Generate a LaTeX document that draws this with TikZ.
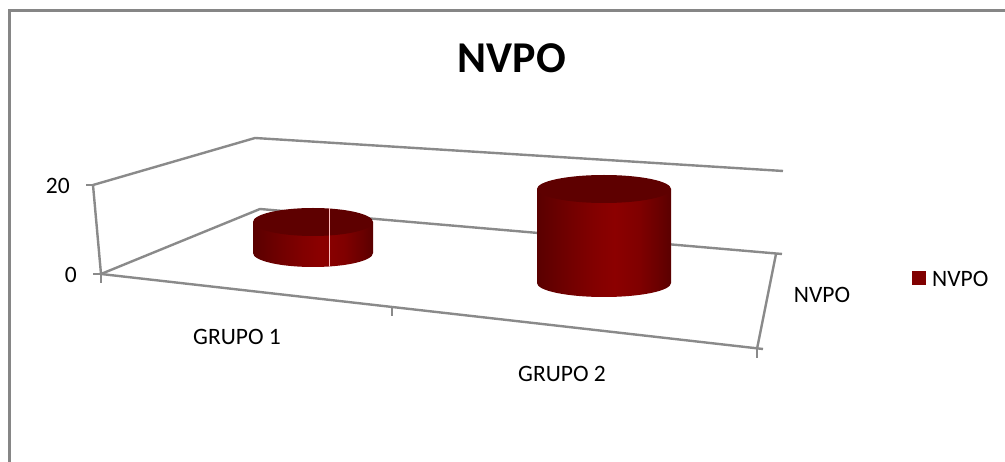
\documentclass[tikz,border=0pt]{standalone}
\usepackage{fontspec}
\setmainfont{Carlito}
\definecolor{axisgray}{HTML}{8A8A8A}
\definecolor{bordergray}{HTML}{868686}
\definecolor{cyltop}{HTML}{5E0000}
\definecolor{legred}{HTML}{800000}
\definecolor{cA}{HTML}{5A0000}
\definecolor{cB}{HTML}{6E0000}
\definecolor{cC}{HTML}{820000}
\definecolor{cD}{HTML}{8C0000}
\definecolor{cE}{HTML}{800000}
\definecolor{cF}{HTML}{680000}
\pgfdeclarehorizontalshading{cylshade}{100bp}{color(0bp)=(cA); color(25bp)=(cA); color(35bp)=(cB); color(46bp)=(cC); color(54bp)=(cD); color(63bp)=(cE); color(71bp)=(cF); color(75bp)=(cA); color(100bp)=(cA)}
\newcommand\mycyl[5]{%
  \shade[shading=cylshade] ({#1-#2},#3) -- ({#1-#2},#4)
    arc[start angle=180,end angle=360,x radius=#2pt,y radius=#5pt]
    -- ({#1+#2},#3) -- cycle;
  \fill[cyltop] (#1,#3) ellipse[x radius=#2pt,y radius=#5pt];
}
\begin{document}
\begin{tikzpicture}[x=1pt,y=-1pt,
  axisline/.style={draw=axisgray,line width=2.4pt,line join=round},
  lbl/.style={inner sep=0pt,font=\fontsize{23.5}{28}\selectfont}]
\useasboundingbox (0,0) rectangle (1005,462);
\fill[white] (0,0) rectangle (1005,462);
\draw[bordergray,line width=3pt] (9.5,462) -- (9.5,10.5) -- (1005,10.5);

% walls and floor
\draw[axisline] (93,185) -- (255,138) -- (783,171);
\draw[axisline] (93,185) -- (101,274);
\draw[axisline] (101,274) -- (260,209) -- (782,254);
\draw[axisline] (776,254) -- (757,349);
\draw[axisline] (101,274) -- (763,349);
% ticks
\draw[axisline] (86,185) -- (93,185);
\draw[axisline] (93,274) -- (101,274);
\draw[axisline] (101,274) -- (101,283);
\draw[axisline] (392,307) -- (392,316);
\draw[axisline] (757,349) -- (757,358);

% cylinders
\mycyl{313}{60}{222}{253}{14}
\draw[red!25!white,line width=0.8pt] (329,208) -- (329,266);
\mycyl{604}{67}{189}{283}{14}

% labels
\node[inner sep=0pt,font=\fontsize{44}{50}\bfseries\selectfont] (title) at (512,58) {NVPO};
\node[lbl,anchor=east] (ylab20) at (70,186) {20};
\node[lbl,anchor=east] (ylab0) at (77,275) {0};
\node[lbl] (cat1) at (237,337) {GRUPO 1};
\node[lbl] (cat2) at (562,374) {GRUPO 2};
\node[lbl] (series) at (822,295) {NVPO};
\node[fill=legred,minimum size=14pt,inner sep=0pt] (legsq) at (919,278) {};
\node[lbl,anchor=west] (legtxt) at (932,279) {NVPO};
\end{tikzpicture}
\end{document}
